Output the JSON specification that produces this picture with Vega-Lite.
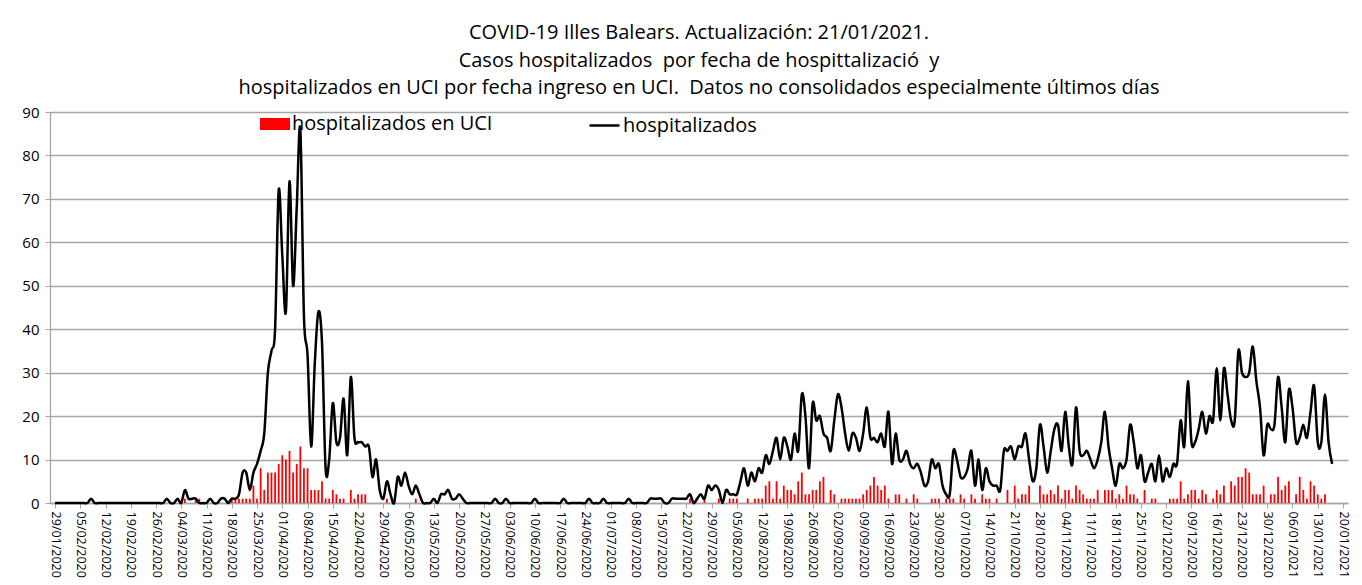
{
"$schema": "https://vega.github.io/schema/vega-lite/v6.json",
"width": 1298, "height": 391,
"autosize": {"type": "none"},
"padding": {"left": 50, "top": 112, "right": 14, "bottom": 82},
"background": "white",
"title": {"text": ["COVID-19 Illes Balears. Actualización: 21/01/2021.", "Casos hospitalizados \u00a0por fecha de hospittalizació \u00a0y", "hospitalizados en UCI por fecha ingreso en UCI. \u00a0Datos no consolidados especialmente últimos días"], "fontSize": 20, "font": "Open Sans", "fontWeight": "normal", "lineHeight": 27.5, "anchor": "middle", "offset": 7, "color": "black"},
"config": {"view": {"stroke": null}},
"data": {"values": [
{"d":"2020-01-29","h":0,"u":0},{"d":"2020-01-30","h":0,"u":0},{"d":"2020-01-31","h":0,"u":0},
{"d":"2020-02-01","h":0,"u":0},{"d":"2020-02-02","h":0,"u":0},{"d":"2020-02-03","h":0,"u":0},{"d":"2020-02-04","h":0,"u":0},{"d":"2020-02-05","h":0,"u":0},{"d":"2020-02-06","h":0,"u":0},{"d":"2020-02-07","h":0,"u":0},{"d":"2020-02-08","h":1,"u":0},{"d":"2020-02-09","h":0,"u":0},{"d":"2020-02-10","h":0,"u":0},
{"d":"2020-02-11","h":0,"u":0},{"d":"2020-02-12","h":0,"u":0},{"d":"2020-02-13","h":0,"u":0},{"d":"2020-02-14","h":0,"u":0},{"d":"2020-02-15","h":0,"u":0},{"d":"2020-02-16","h":0,"u":0},{"d":"2020-02-17","h":0,"u":0},{"d":"2020-02-18","h":0,"u":0},{"d":"2020-02-19","h":0,"u":0},{"d":"2020-02-20","h":0,"u":0},
{"d":"2020-02-21","h":0,"u":0},{"d":"2020-02-22","h":0,"u":0},{"d":"2020-02-23","h":0,"u":0},{"d":"2020-02-24","h":0,"u":0},{"d":"2020-02-25","h":0,"u":0},{"d":"2020-02-26","h":0,"u":0},{"d":"2020-02-27","h":0,"u":0},{"d":"2020-02-28","h":0,"u":0},{"d":"2020-02-29","h":1,"u":0},
{"d":"2020-03-01","h":0,"u":0},{"d":"2020-03-02","h":0,"u":0},{"d":"2020-03-03","h":1,"u":0},{"d":"2020-03-04","h":0,"u":0},{"d":"2020-03-05","h":3,"u":1},{"d":"2020-03-06","h":1,"u":0},{"d":"2020-03-07","h":1,"u":0},{"d":"2020-03-08","h":1,"u":1},{"d":"2020-03-09","h":0,"u":1},{"d":"2020-03-10","h":0,"u":0},
{"d":"2020-03-11","h":0,"u":0},{"d":"2020-03-12","h":1,"u":0},{"d":"2020-03-13","h":0,"u":0},{"d":"2020-03-14","h":0,"u":0},{"d":"2020-03-15","h":1,"u":0},{"d":"2020-03-16","h":1,"u":0},{"d":"2020-03-17","h":0,"u":0},{"d":"2020-03-18","h":1,"u":1},{"d":"2020-03-19","h":1,"u":1},{"d":"2020-03-20","h":2,"u":1},
{"d":"2020-03-21","h":7,"u":1},{"d":"2020-03-22","h":7,"u":1},{"d":"2020-03-23","h":3,"u":1},{"d":"2020-03-24","h":7,"u":4},{"d":"2020-03-25","h":9,"u":1},{"d":"2020-03-26","h":12,"u":8},{"d":"2020-03-27","h":16,"u":3},{"d":"2020-03-28","h":30,"u":7},{"d":"2020-03-29","h":35,"u":7},{"d":"2020-03-30","h":40,"u":7},{"d":"2020-03-31","h":72,"u":9},
{"d":"2020-04-01","h":57,"u":11},{"d":"2020-04-02","h":44,"u":10},{"d":"2020-04-03","h":74,"u":12},{"d":"2020-04-04","h":50,"u":7},{"d":"2020-04-05","h":68,"u":9},{"d":"2020-04-06","h":86,"u":13},{"d":"2020-04-07","h":43,"u":8},{"d":"2020-04-08","h":34,"u":8},{"d":"2020-04-09","h":13,"u":3},{"d":"2020-04-10","h":32,"u":3},
{"d":"2020-04-11","h":44,"u":3},{"d":"2020-04-12","h":37,"u":5},{"d":"2020-04-13","h":8,"u":1},{"d":"2020-04-14","h":10,"u":1},{"d":"2020-04-15","h":23,"u":3},{"d":"2020-04-16","h":14,"u":2},{"d":"2020-04-17","h":15,"u":1},{"d":"2020-04-18","h":24,"u":1},{"d":"2020-04-19","h":11,"u":0},{"d":"2020-04-20","h":29,"u":3},
{"d":"2020-04-21","h":15,"u":1},{"d":"2020-04-22","h":14,"u":2},{"d":"2020-04-23","h":14,"u":2},{"d":"2020-04-24","h":13,"u":2},{"d":"2020-04-25","h":13,"u":0},{"d":"2020-04-26","h":6,"u":0},{"d":"2020-04-27","h":10,"u":0},{"d":"2020-04-28","h":3,"u":0},{"d":"2020-04-29","h":1,"u":0},{"d":"2020-04-30","h":5,"u":1},
{"d":"2020-05-01","h":2,"u":0},{"d":"2020-05-02","h":0,"u":0},{"d":"2020-05-03","h":6,"u":0},{"d":"2020-05-04","h":4,"u":0},{"d":"2020-05-05","h":7,"u":0},{"d":"2020-05-06","h":4,"u":0},{"d":"2020-05-07","h":2,"u":0},{"d":"2020-05-08","h":4,"u":1},{"d":"2020-05-09","h":2,"u":0},{"d":"2020-05-10","h":0,"u":0},
{"d":"2020-05-11","h":0,"u":0},{"d":"2020-05-12","h":0,"u":0},{"d":"2020-05-13","h":1,"u":0},{"d":"2020-05-14","h":0,"u":0},{"d":"2020-05-15","h":2,"u":0},{"d":"2020-05-16","h":2,"u":0},{"d":"2020-05-17","h":3,"u":0},{"d":"2020-05-18","h":1,"u":0},{"d":"2020-05-19","h":1,"u":0},{"d":"2020-05-20","h":2,"u":0},
{"d":"2020-05-21","h":1,"u":0},{"d":"2020-05-22","h":0,"u":0},{"d":"2020-05-23","h":0,"u":0},{"d":"2020-05-24","h":0,"u":0},{"d":"2020-05-25","h":0,"u":0},{"d":"2020-05-26","h":0,"u":0},{"d":"2020-05-27","h":0,"u":0},{"d":"2020-05-28","h":0,"u":0},{"d":"2020-05-29","h":0,"u":0},{"d":"2020-05-30","h":1,"u":0},{"d":"2020-05-31","h":0,"u":0},
{"d":"2020-06-01","h":0,"u":0},{"d":"2020-06-02","h":1,"u":0},{"d":"2020-06-03","h":0,"u":0},{"d":"2020-06-04","h":0,"u":0},{"d":"2020-06-05","h":0,"u":0},{"d":"2020-06-06","h":0,"u":0},{"d":"2020-06-07","h":0,"u":0},{"d":"2020-06-08","h":0,"u":0},{"d":"2020-06-09","h":0,"u":0},{"d":"2020-06-10","h":1,"u":0},
{"d":"2020-06-11","h":0,"u":0},{"d":"2020-06-12","h":0,"u":0},{"d":"2020-06-13","h":0,"u":0},{"d":"2020-06-14","h":0,"u":0},{"d":"2020-06-15","h":0,"u":0},{"d":"2020-06-16","h":0,"u":0},{"d":"2020-06-17","h":0,"u":0},{"d":"2020-06-18","h":1,"u":0},{"d":"2020-06-19","h":0,"u":0},{"d":"2020-06-20","h":0,"u":0},
{"d":"2020-06-21","h":0,"u":0},{"d":"2020-06-22","h":0,"u":0},{"d":"2020-06-23","h":0,"u":0},{"d":"2020-06-24","h":0,"u":0},{"d":"2020-06-25","h":1,"u":0},{"d":"2020-06-26","h":0,"u":0},{"d":"2020-06-27","h":0,"u":0},{"d":"2020-06-28","h":0,"u":0},{"d":"2020-06-29","h":1,"u":0},{"d":"2020-06-30","h":0,"u":0},
{"d":"2020-07-01","h":0,"u":0},{"d":"2020-07-02","h":0,"u":0},{"d":"2020-07-03","h":0,"u":0},{"d":"2020-07-04","h":0,"u":0},{"d":"2020-07-05","h":0,"u":0},{"d":"2020-07-06","h":1,"u":0},{"d":"2020-07-07","h":0,"u":0},{"d":"2020-07-08","h":0,"u":0},{"d":"2020-07-09","h":0,"u":0},{"d":"2020-07-10","h":0,"u":0},
{"d":"2020-07-11","h":0,"u":0},{"d":"2020-07-12","h":1,"u":0},{"d":"2020-07-13","h":1,"u":0},{"d":"2020-07-14","h":1,"u":0},{"d":"2020-07-15","h":1,"u":0},{"d":"2020-07-16","h":0,"u":0},{"d":"2020-07-17","h":0,"u":0},{"d":"2020-07-18","h":1,"u":0},{"d":"2020-07-19","h":1,"u":0},{"d":"2020-07-20","h":1,"u":0},
{"d":"2020-07-21","h":1,"u":0},{"d":"2020-07-22","h":1,"u":0},{"d":"2020-07-23","h":2,"u":1},{"d":"2020-07-24","h":0,"u":0},{"d":"2020-07-25","h":1,"u":0},{"d":"2020-07-26","h":2,"u":0},{"d":"2020-07-27","h":1,"u":1},{"d":"2020-07-28","h":4,"u":0},{"d":"2020-07-29","h":3,"u":0},{"d":"2020-07-30","h":4,"u":0},{"d":"2020-07-31","h":3,"u":1},
{"d":"2020-08-01","h":0,"u":0},{"d":"2020-08-02","h":3,"u":0},{"d":"2020-08-03","h":2,"u":1},{"d":"2020-08-04","h":2,"u":1},{"d":"2020-08-05","h":2,"u":1},{"d":"2020-08-06","h":5,"u":0},{"d":"2020-08-07","h":8,"u":0},{"d":"2020-08-08","h":4,"u":1},{"d":"2020-08-09","h":7,"u":0},{"d":"2020-08-10","h":5,"u":1},
{"d":"2020-08-11","h":8,"u":1},{"d":"2020-08-12","h":7,"u":1},{"d":"2020-08-13","h":11,"u":4},{"d":"2020-08-14","h":9,"u":5},{"d":"2020-08-15","h":12,"u":1},{"d":"2020-08-16","h":15,"u":5},{"d":"2020-08-17","h":10,"u":1},{"d":"2020-08-18","h":15,"u":4},{"d":"2020-08-19","h":13,"u":3},{"d":"2020-08-20","h":10,"u":3},
{"d":"2020-08-21","h":16,"u":2},{"d":"2020-08-22","h":12,"u":5},{"d":"2020-08-23","h":25,"u":7},{"d":"2020-08-24","h":20,"u":2},{"d":"2020-08-25","h":8,"u":2},{"d":"2020-08-26","h":23,"u":3},{"d":"2020-08-27","h":19,"u":3},{"d":"2020-08-28","h":20,"u":5},{"d":"2020-08-29","h":16,"u":6},{"d":"2020-08-30","h":15,"u":0},{"d":"2020-08-31","h":12,"u":3},
{"d":"2020-09-01","h":19,"u":2},{"d":"2020-09-02","h":25,"u":0},{"d":"2020-09-03","h":22,"u":1},{"d":"2020-09-04","h":16,"u":1},{"d":"2020-09-05","h":12,"u":1},{"d":"2020-09-06","h":16,"u":1},{"d":"2020-09-07","h":15,"u":1},{"d":"2020-09-08","h":12,"u":1},{"d":"2020-09-09","h":16,"u":2},{"d":"2020-09-10","h":22,"u":3},
{"d":"2020-09-11","h":15,"u":4},{"d":"2020-09-12","h":15,"u":6},{"d":"2020-09-13","h":14,"u":4},{"d":"2020-09-14","h":16,"u":3},{"d":"2020-09-15","h":13,"u":4},{"d":"2020-09-16","h":21,"u":1},{"d":"2020-09-17","h":9,"u":0},{"d":"2020-09-18","h":16,"u":2},{"d":"2020-09-19","h":10,"u":2},{"d":"2020-09-20","h":10,"u":0},
{"d":"2020-09-21","h":12,"u":1},{"d":"2020-09-22","h":9,"u":0},{"d":"2020-09-23","h":8,"u":2},{"d":"2020-09-24","h":9,"u":1},{"d":"2020-09-25","h":7,"u":0},{"d":"2020-09-26","h":4,"u":0},{"d":"2020-09-27","h":5,"u":0},{"d":"2020-09-28","h":10,"u":1},{"d":"2020-09-29","h":8,"u":1},{"d":"2020-09-30","h":9,"u":1},
{"d":"2020-10-01","h":4,"u":0},{"d":"2020-10-02","h":2,"u":1},{"d":"2020-10-03","h":2,"u":1},{"d":"2020-10-04","h":12,"u":1},{"d":"2020-10-05","h":10,"u":0},{"d":"2020-10-06","h":6,"u":2},{"d":"2020-10-07","h":6,"u":1},{"d":"2020-10-08","h":8,"u":0},{"d":"2020-10-09","h":12,"u":2},{"d":"2020-10-10","h":4,"u":1},
{"d":"2020-10-11","h":10,"u":0},{"d":"2020-10-12","h":3,"u":2},{"d":"2020-10-13","h":8,"u":1},{"d":"2020-10-14","h":5,"u":1},{"d":"2020-10-15","h":4,"u":0},{"d":"2020-10-16","h":4,"u":1},{"d":"2020-10-17","h":3,"u":0},{"d":"2020-10-18","h":12,"u":0},{"d":"2020-10-19","h":12,"u":3},{"d":"2020-10-20","h":13,"u":0},
{"d":"2020-10-21","h":10,"u":4},{"d":"2020-10-22","h":13,"u":1},{"d":"2020-10-23","h":13,"u":2},{"d":"2020-10-24","h":16,"u":2},{"d":"2020-10-25","h":10,"u":4},{"d":"2020-10-26","h":5,"u":0},{"d":"2020-10-27","h":8,"u":0},{"d":"2020-10-28","h":18,"u":4},{"d":"2020-10-29","h":13,"u":2},{"d":"2020-10-30","h":7,"u":2},{"d":"2020-10-31","h":12,"u":3},
{"d":"2020-11-01","h":17,"u":2},{"d":"2020-11-02","h":18,"u":4},{"d":"2020-11-03","h":12,"u":1},{"d":"2020-11-04","h":21,"u":3},{"d":"2020-11-05","h":13,"u":3},{"d":"2020-11-06","h":9,"u":1},{"d":"2020-11-07","h":22,"u":4},{"d":"2020-11-08","h":12,"u":3},{"d":"2020-11-09","h":11,"u":2},{"d":"2020-11-10","h":12,"u":1},
{"d":"2020-11-11","h":10,"u":1},{"d":"2020-11-12","h":8,"u":1},{"d":"2020-11-13","h":10,"u":3},{"d":"2020-11-14","h":14,"u":0},{"d":"2020-11-15","h":21,"u":3},{"d":"2020-11-16","h":13,"u":3},{"d":"2020-11-17","h":8,"u":3},{"d":"2020-11-18","h":4,"u":1},{"d":"2020-11-19","h":9,"u":2},{"d":"2020-11-20","h":8,"u":1},
{"d":"2020-11-21","h":10,"u":4},{"d":"2020-11-22","h":18,"u":2},{"d":"2020-11-23","h":14,"u":2},{"d":"2020-11-24","h":8,"u":1},{"d":"2020-11-25","h":11,"u":0},{"d":"2020-11-26","h":5,"u":3},{"d":"2020-11-27","h":7,"u":0},{"d":"2020-11-28","h":9,"u":1},{"d":"2020-11-29","h":5,"u":1},{"d":"2020-11-30","h":11,"u":0},
{"d":"2020-12-01","h":5,"u":0},{"d":"2020-12-02","h":8,"u":0},{"d":"2020-12-03","h":6,"u":1},{"d":"2020-12-04","h":9,"u":1},{"d":"2020-12-05","h":9,"u":1},{"d":"2020-12-06","h":19,"u":5},{"d":"2020-12-07","h":13,"u":1},{"d":"2020-12-08","h":28,"u":2},{"d":"2020-12-09","h":14,"u":3},{"d":"2020-12-10","h":14,"u":3},
{"d":"2020-12-11","h":17,"u":1},{"d":"2020-12-12","h":21,"u":3},{"d":"2020-12-13","h":16,"u":2},{"d":"2020-12-14","h":20,"u":0},{"d":"2020-12-15","h":19,"u":1},{"d":"2020-12-16","h":31,"u":3},{"d":"2020-12-17","h":19,"u":2},{"d":"2020-12-18","h":31,"u":4},{"d":"2020-12-19","h":25,"u":0},{"d":"2020-12-20","h":19,"u":5},
{"d":"2020-12-21","h":19,"u":4},{"d":"2020-12-22","h":35,"u":6},{"d":"2020-12-23","h":30,"u":6},{"d":"2020-12-24","h":29,"u":8},{"d":"2020-12-25","h":30,"u":7},{"d":"2020-12-26","h":36,"u":2},{"d":"2020-12-27","h":28,"u":2},{"d":"2020-12-28","h":22,"u":2},{"d":"2020-12-29","h":11,"u":4},{"d":"2020-12-30","h":18,"u":0},{"d":"2020-12-31","h":17,"u":2},
{"d":"2021-01-01","h":18,"u":2},{"d":"2021-01-02","h":29,"u":6},{"d":"2021-01-03","h":22,"u":3},{"d":"2021-01-04","h":14,"u":4},{"d":"2021-01-05","h":26,"u":5},{"d":"2021-01-06","h":22,"u":0},{"d":"2021-01-07","h":14,"u":2},{"d":"2021-01-08","h":15,"u":6},{"d":"2021-01-09","h":18,"u":3},{"d":"2021-01-10","h":15,"u":1},
{"d":"2021-01-11","h":21,"u":5},{"d":"2021-01-12","h":27,"u":4},{"d":"2021-01-13","h":14,"u":2},{"d":"2021-01-14","h":14,"u":1},{"d":"2021-01-15","h":25,"u":2},{"d":"2021-01-16","h":14,"u":0},{"d":"2021-01-17","h":9,"u":0}
]},
"encoding": {
  "x": {"field": "d", "type": "temporal",
    "scale": {"type": "utc", "nice": false, "domain": [{"year":2020,"month":1,"date":29,"utc":true},{"year":2021,"month":1,"date":20,"utc":true}]},
    "axis": {"title": null, "format": "%d/%m/%Y", "labelAngle": 90, "labelFontSize": 12.5, "labelFont": "Open Sans", "labelColor": "black", "labelPadding": 3, "labelOverlap": false, "labelFlush": false, "grid": false, "tickSize": 5, "tickColor": "#a6a6a6", "domainColor": "#a6a6a6", "domainWidth": 1.3,
      "values": [
        {"year":2020,"month":1,"date":29,"utc":true},{"year":2020,"month":2,"date":5,"utc":true},{"year":2020,"month":2,"date":12,"utc":true},{"year":2020,"month":2,"date":19,"utc":true},{"year":2020,"month":2,"date":26,"utc":true},
        {"year":2020,"month":3,"date":4,"utc":true},{"year":2020,"month":3,"date":11,"utc":true},{"year":2020,"month":3,"date":18,"utc":true},{"year":2020,"month":3,"date":25,"utc":true},
        {"year":2020,"month":4,"date":1,"utc":true},{"year":2020,"month":4,"date":8,"utc":true},{"year":2020,"month":4,"date":15,"utc":true},{"year":2020,"month":4,"date":22,"utc":true},{"year":2020,"month":4,"date":29,"utc":true},
        {"year":2020,"month":5,"date":6,"utc":true},{"year":2020,"month":5,"date":13,"utc":true},{"year":2020,"month":5,"date":20,"utc":true},{"year":2020,"month":5,"date":27,"utc":true},
        {"year":2020,"month":6,"date":3,"utc":true},{"year":2020,"month":6,"date":10,"utc":true},{"year":2020,"month":6,"date":17,"utc":true},{"year":2020,"month":6,"date":24,"utc":true},
        {"year":2020,"month":7,"date":1,"utc":true},{"year":2020,"month":7,"date":8,"utc":true},{"year":2020,"month":7,"date":15,"utc":true},{"year":2020,"month":7,"date":22,"utc":true},{"year":2020,"month":7,"date":29,"utc":true},
        {"year":2020,"month":8,"date":5,"utc":true},{"year":2020,"month":8,"date":12,"utc":true},{"year":2020,"month":8,"date":19,"utc":true},{"year":2020,"month":8,"date":26,"utc":true},
        {"year":2020,"month":9,"date":2,"utc":true},{"year":2020,"month":9,"date":9,"utc":true},{"year":2020,"month":9,"date":16,"utc":true},{"year":2020,"month":9,"date":23,"utc":true},{"year":2020,"month":9,"date":30,"utc":true},
        {"year":2020,"month":10,"date":7,"utc":true},{"year":2020,"month":10,"date":14,"utc":true},{"year":2020,"month":10,"date":21,"utc":true},{"year":2020,"month":10,"date":28,"utc":true},
        {"year":2020,"month":11,"date":4,"utc":true},{"year":2020,"month":11,"date":11,"utc":true},{"year":2020,"month":11,"date":18,"utc":true},{"year":2020,"month":11,"date":25,"utc":true},
        {"year":2020,"month":12,"date":2,"utc":true},{"year":2020,"month":12,"date":9,"utc":true},{"year":2020,"month":12,"date":16,"utc":true},{"year":2020,"month":12,"date":23,"utc":true},{"year":2020,"month":12,"date":30,"utc":true},
        {"year":2021,"month":1,"date":6,"utc":true},{"year":2021,"month":1,"date":13,"utc":true},{"year":2021,"month":1,"date":20,"utc":true}
      ]}
  }
},
"layer": [
  {"mark": {"type": "bar", "size": 1.8},
   "encoding": {
     "y": {"field": "u", "type": "quantitative", "scale": {"domain": [0, 90], "nice": false},
       "axis": {"title": null, "values": [0,10,20,30,40,50,60,70,80,90], "grid": true, "gridColor": "#a6a6a6", "gridWidth": 1.3, "domainColor": "#a6a6a6", "domainWidth": 1.3, "tickColor": "#a6a6a6", "tickSize": 5, "labelFontSize": 15, "labelFont": "Open Sans", "labelColor": "black", "labelPadding": 6}},
     "color": {"datum": "hospitalizados en UCI", "type": "nominal", "scale": {"range": ["#ff0000"]},
       "legend": {"title": null, "orient": "none", "legendX": 210, "legendY": -3, "symbolType": "M-1,-0.4H1V0.4H-1Z", "symbolSize": 900, "symbolStrokeWidth": 0, "labelFontSize": 20, "labelFont": "Open Sans", "labelColor": "black", "labelOffset": 2, "labelLimit": 0}}
   }},
  {"mark": {"type": "line", "interpolate": "cardinal", "strokeWidth": 2.5},
   "encoding": {
     "y": {"field": "h", "type": "quantitative", "axis": {"title": null}},
     "stroke": {"datum": "hospitalizados", "type": "nominal", "scale": {"range": ["#000000"]},
       "legend": {"title": null, "orient": "none", "legendX": 538, "legendY": -3, "symbolType": "M-1,0H1", "symbolSize": 900, "symbolStrokeWidth": 2.5, "labelFontSize": 20, "labelFont": "Open Sans", "labelColor": "black", "labelOffset": 2, "labelLimit": 0}}
   }}
]
}
